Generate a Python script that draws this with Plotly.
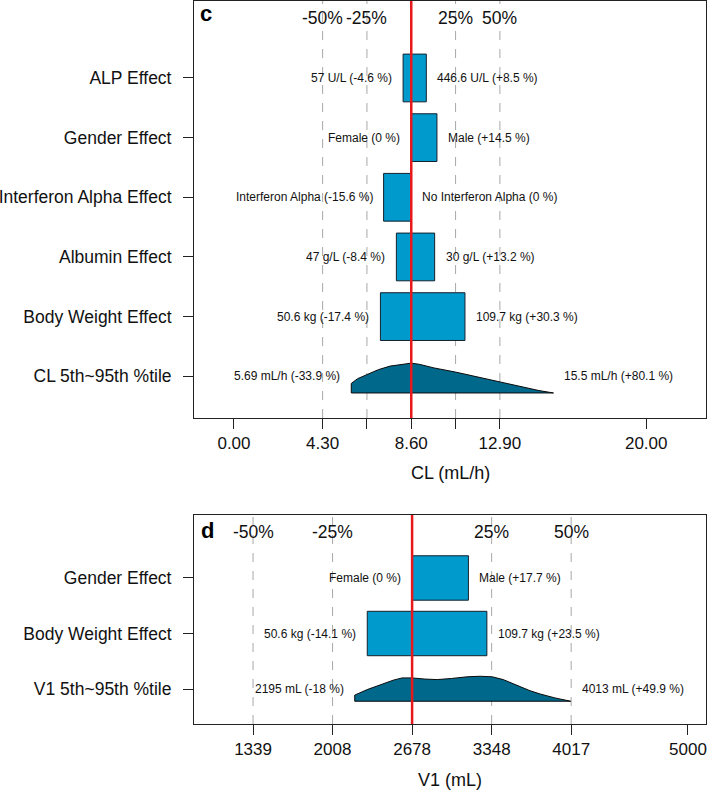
import plotly.graph_objects as go

# ---------------- Panel c: CL ----------------
cl_ref = 8.6
cl_cats = ["ALP Effect", "Gender Effect", "Interferon Alpha Effect",
           "Albumin Effect", "Body Weight Effect"]
cl_cat_pos = [6, 5, 4, 3, 2]
cl_low_pct = [-4.6, 0.0, -15.6, -8.4, -17.4]
cl_high_pct = [8.5, 14.5, 0.0, 13.2, 30.3]
cl_low_lab = ["57 U/L (-4.6 %)", "Female (0 %)", "Interferon Alpha (-15.6 %)",
              "47 g/L (-8.4 %)", "50.6 kg (-17.4 %)"]
cl_high_lab = ["446.6 U/L (+8.5 %)", "Male (+14.5 %)", "No Interferon Alpha (0 %)",
               "30 g/L (+13.2 %)", "109.7 kg (+30.3 %)"]
cl_dist_cat = "CL 5th~95th %tile"
cl_dist_lo, cl_dist_hi = 5.69, 15.5
cl_dist_lab = ["5.69 mL/h (-33.9 %)", "15.5 mL/h (+80.1 %)"]
# density outline (x, y in category units)
cl_dens_x = [5.69, 5.69, 6.0, 6.45, 7.0, 7.57, 8.1, 8.6, 9.0, 9.7, 10.75, 11.8, 12.9, 14.0, 14.8, 15.5, 5.69]
cl_dens_y = [0.72, 0.88, 0.96, 1.03, 1.11, 1.17, 1.20, 1.22, 1.20, 1.14, 1.07, 0.99, 0.90, 0.81, 0.76, 0.72, 0.72]
cl_ticks = [0, 4.3, 6.45, 8.6, 10.75, 12.9, 20]
cl_ticktext = ["0.00", "4.30", "", "8.60", "", "12.90", "20.00"]

# ---------------- Panel d: V1 ----------------
v1_ref = 2678
v1_cats = ["Gender Effect", "Body Weight Effect"]
v1_cat_pos = [3, 2]
v1_low_pct = [0.0, -14.1]
v1_high_pct = [17.7, 23.5]
v1_low_lab = ["Female (0 %)", "50.6 kg (-14.1 %)"]
v1_high_lab = ["Male (+17.7 %)", "109.7 kg (+23.5 %)"]
v1_dist_cat = "V1 5th~95th %tile"
v1_dist_lo, v1_dist_hi = 2195, 4013
v1_dist_lab = ["2195 mL (-18 %)", "4013 mL (+49.9 %)"]
v1_dens_x = [2195, 2195, 2300, 2434, 2520, 2594, 2678, 2780, 2889, 3010, 3142, 3250, 3352,
             3445, 3520, 3588, 3670, 3757, 3880, 4013, 2195]
v1_dens_y = [0.78, 0.89, 0.99, 1.09, 1.16, 1.20, 1.20, 1.18, 1.17, 1.19, 1.22, 1.23, 1.22,
             1.17, 1.10, 1.04, 0.97, 0.91, 0.84, 0.78, 0.78]
v1_ticks = [1339, 2008, 2678, 3348, 4017, 5000]
v1_ticktext = ["1339", "2008", "2678", "3348", "4017", "5000"]

pct_lines = [-50, -25, 25, 50]
pct_labels = ["-50%", "-25%", "25%", "50%"]

BAR = "#009ACD"
DENS = "#00688B"
EDGE = "#14202c"
RED = "#E8191C"
GRID = "#A8A8A8"
FONT = "Liberation Sans, Arial, sans-serif"

fig = go.Figure()
annotations = []
shapes = []


def add_panel(xa, ya, ref, cat_pos, low_pct, high_pct, low_lab, high_lab,
              dist_lo, dist_hi, dist_lab, dens_x, dens_y):
    lows = [ref * (1 + p / 100) for p in low_pct]
    highs = [ref * (1 + p / 100) for p in high_pct]
    fig.add_trace(go.Bar(
        y=cat_pos, x=[h - l for h, l in zip(highs, lows)], base=lows,
        orientation="h", width=0.8, xaxis=xa, yaxis=ya,
        marker=dict(color=BAR, line=dict(color=EDGE, width=1)),
        showlegend=False, hoverinfo="skip"))
    fig.add_trace(go.Scatter(
        x=dens_x, y=dens_y, mode="lines", fill="toself", fillcolor=DENS,
        line=dict(color="#0a0a0a", width=1), xaxis=xa, yaxis=ya,
        showlegend=False, hoverinfo="skip"))
    xr = "x" if xa == "x" else "x2"
    yr = "y" if ya == "y" else "y2"
    for c, l, h, ll, hl in zip(cat_pos, lows, highs, low_lab, high_lab):
        annotations.append(dict(x=l, y=c, xref=xr, yref=yr, text=ll, showarrow=False,
                                xanchor="right", xshift=-9, font=dict(size=12, color="#111")))
        annotations.append(dict(x=h, y=c, xref=xr, yref=yr, text=hl, showarrow=False,
                                xanchor="left", xshift=9, font=dict(size=12, color="#111")))
    annotations.append(dict(x=dist_lo, y=1, xref=xr, yref=yr, text=dist_lab[0], showarrow=False,
                            xanchor="right", xshift=-9, font=dict(size=12, color="#111")))
    annotations.append(dict(x=dist_hi, y=1, xref=xr, yref=yr, text=dist_lab[1], showarrow=False,
                            xanchor="left", xshift=9, font=dict(size=12, color="#111")))
    for p, t in zip(pct_lines, pct_labels):
        v = ref * (1 + p / 100)
        shapes.append(dict(type="line", xref=xr, yref=yr + " domain", x0=v, x1=v, y0=0, y1=1,
                           line=dict(color=GRID, width=1, dash="dash"), layer="below"))
        annotations.append(dict(x=v, y=1, xref=xr, yref=yr + " domain", text=t, showarrow=False,
                                yanchor="middle", yshift=-17, font=dict(size=17.5, color="#111")))
    shapes.append(dict(type="line", xref=xr, yref=yr + " domain", x0=ref, x1=ref, y0=0, y1=1,
                       line=dict(color=RED, width=2.5), layer="above"))


add_panel("x", "y", cl_ref, cl_cat_pos, cl_low_pct, cl_high_pct, cl_low_lab, cl_high_lab,
          cl_dist_lo, cl_dist_hi, cl_dist_lab, cl_dens_x, cl_dens_y)
add_panel("x2", "y2", v1_ref, v1_cat_pos, v1_low_pct, v1_high_pct, v1_low_lab, v1_high_lab,
          v1_dist_lo, v1_dist_hi, v1_dist_lab, v1_dens_x, v1_dens_y)

# panel letters and axis titles
annotations.append(dict(x=0, y=1, xref="x domain", yref="y domain", text="<b>c</b>",
                        showarrow=False, xanchor="left", yanchor="middle", xshift=4, yshift=-12,
                        font=dict(size=22, color="#000")))
annotations.append(dict(x=0, y=1, xref="x2 domain", yref="y2 domain", text="<b>d</b>",
                        showarrow=False, xanchor="left", yanchor="middle", xshift=5, yshift=-16,
                        font=dict(size=22, color="#000")))
annotations.append(dict(x=0.5, y=0, xref="x domain", yref="y domain", text="CL (mL/h)",
                        showarrow=False, yanchor="middle", yshift=-55, font=dict(size=18, color="#111")))
annotations.append(dict(x=0.5, y=0, xref="x2 domain", yref="y2 domain", text="V1 (mL)",
                        showarrow=False, yanchor="middle", yshift=-56, font=dict(size=18, color="#111")))

axis_common = dict(showline=True, mirror=True, linecolor="#222", linewidth=1,
                   showgrid=False, zeroline=False, ticks="outside", ticklen=10,
                   tickcolor="#222", tickfont=dict(size=17, color="#111"),
                   automargin=False)
yaxis_extra = dict(tickfont=dict(size=17.5, color="#111"), ticklabelstandoff=8)
ycommon = {**axis_common, **yaxis_extra}

fig.update_layout(
    width=708, height=790,
    margin=dict(l=194, r=2, t=1, b=66, autoexpand=False),
    paper_bgcolor="white", plot_bgcolor="white",
    font=dict(family=FONT, color="#111"),
    showlegend=False,
    barmode="overlay",
    xaxis=dict(domain=[0, 1], anchor="y", range=[-1.94, 22.9],
               tickvals=cl_ticks, ticktext=cl_ticktext, **axis_common),
    yaxis=dict(domain=[0.4232, 1.0], anchor="x", range=[0.30, 7.29],
               tickvals=cl_cat_pos + [1], ticktext=cl_cats + [cl_dist_cat], **ycommon),
    xaxis2=dict(domain=[0, 1], anchor="y2", range=[842, 5152],
                tickvals=v1_ticks, ticktext=v1_ticktext, **axis_common),
    yaxis2=dict(domain=[0, 0.2891], anchor="x2", range=[0.37, 4.135],
                tickvals=v1_cat_pos + [1], ticktext=v1_cats + [v1_dist_cat], **ycommon),
    annotations=annotations,
    shapes=shapes,
)

fig.write_html("out.html", config={"displayModeBar": False},
               post_script="document.body.style.margin='0';document.body.style.overflow='hidden';")
